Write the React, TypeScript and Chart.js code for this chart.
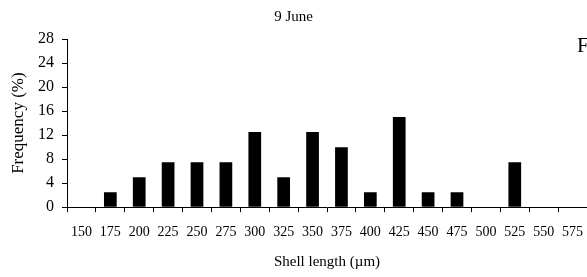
import React, { useEffect, useRef } from "react";
import { Chart, registerables } from "chart.js";

Chart.register(...registerables);

const categories = ["150", "175", "200", "225", "250", "275", "300", "325", "350", "375", "400", "425", "450", "475", "500", "525", "550", "575"];
const frequency = [0, 2.5, 5, 7.5, 7.5, 7.5, 12.5, 5, 12.5, 10, 2.5, 15, 2.5, 2.5, 0, 7.5, 0, 0];
const yTicks = [0, 4, 8, 12, 16, 20, 24, 28];
const titleText = "9 June";
const xTitle = "Shell length (\u00b5m)";
const yTitle = "Frequency (%)";
const cornerText = "F";

const FONT = "'Liberation Serif', 'Times New Roman', serif";

export default function App() {
  const ref = useRef<HTMLCanvasElement | null>(null);
  useEffect(() => {
    document.body.style.margin = "0";
    const corner = {
      id: "corner",
      afterDraw(chart: any) {
        const ctx = chart.ctx;
        ctx.save();
        ctx.fillStyle = "#000";
        ctx.font = `21px ${FONT}`;
        ctx.textBaseline = "alphabetic";
        ctx.textAlign = "left";
        ctx.fillText(cornerText, 577, 52);
        ctx.restore();
      },
    };
    const chart = new Chart(ref.current!, {
      type: "bar",
      data: {
        labels: categories,
        datasets: [
          {
            data: frequency,
            backgroundColor: "#000",
            borderWidth: 0,
            barPercentage: 0.44,
            categoryPercentage: 1,
          },
        ],
      },
      options: {
        animation: false,
        responsive: false,
        devicePixelRatio: 1,
        layout: { padding: { left: 0, right: 0, top: 0, bottom: 6 } },
        plugins: {
          legend: { display: false },
          tooltip: { enabled: false },
          title: {
            display: true,
            text: titleText,
            color: "#000",
            font: { family: FONT, size: 15, weight: "normal" },
            padding: { top: 8, bottom: 13 },
          },
        },
        scales: {
          x: {
            offset: true,
            grid: {
              offset: true,
              drawOnChartArea: false,
              drawTicks: true,
              tickLength: 5,
              color: "#000",
            },
            border: { display: true, color: "#000", width: 1 },
            ticks: {
              color: "#000",
              font: { family: FONT, size: 14 },
              padding: 12,
              maxRotation: 0,
              autoSkip: false,
            },
            title: {
              display: true,
              text: xTitle,
              color: "#000",
              font: { family: FONT, size: 15 },
              padding: { top: 0, bottom: 0 },
            },
            afterFit: (axis: any) => {
              axis.paddingLeft = 0;
              axis.paddingRight = 0;
            },
          },
          y: {
            min: 0,
            max: 28,
            afterBuildTicks: (axis: any) => {
              axis.ticks = yTicks.map((v) => ({ value: v }));
            },
            afterFit: (axis: any) => {
              axis.width = 67;
            },
            grid: {
              drawOnChartArea: false,
              drawTicks: true,
              tickLength: 5,
              color: "#000",
            },
            border: { display: true, color: "#000", width: 1 },
            ticks: {
              color: "#000",
              font: { family: FONT, size: 16 },
              padding: 8,
              autoSkip: false,
            },
            title: {
              display: true,
              text: yTitle,
              color: "#000",
              font: { family: FONT, size: 17 },
              padding: { top: 8, bottom: 0 },
            },
          },
        },
      },
      plugins: [corner],
    });
    return () => chart.destroy();
  }, []);
  return (
    <div style={{ width: 587, height: 277, position: "relative", overflow: "hidden" }}>
      <canvas ref={ref} width={587} height={277} style={{ display: "block" }} />
    </div>
  );
}
